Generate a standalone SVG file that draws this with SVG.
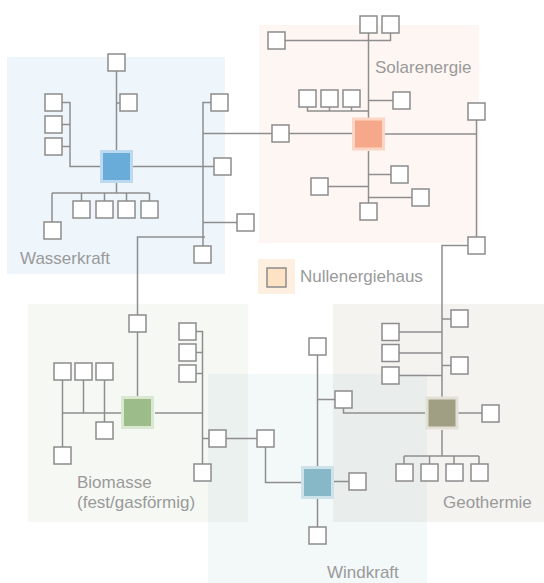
<svg xmlns="http://www.w3.org/2000/svg" width="544" height="583" viewBox="0 0 544 583">
<style>
.b{fill:#fff;stroke:#8c8c8c;stroke-width:1.5}
.c{fill:none;stroke:#8e8e8e;stroke-width:1.5}
.t{font-family:"Liberation Sans",Arial,sans-serif;font-size:17px;fill:#9a9a9a}
</style>
<rect width="544" height="583" fill="#fff"/>
<g id="regions">
<rect x="7" y="57" width="218" height="217" fill="#5b9bd5" fill-opacity="0.1"/>
<rect x="259" y="25" width="220" height="218" fill="#f4a989" fill-opacity="0.1"/>
<rect x="28" y="304" width="220" height="218" fill="#9cbd89" fill-opacity="0.1"/>
<rect x="333" y="304" width="211" height="218" fill="#a19f83" fill-opacity="0.12"/>
<rect x="208" y="374" width="219" height="209" fill="#86b8c8" fill-opacity="0.1"/>
<text class="t" x="20" y="264">Wasserkraft</text>
<text class="t" x="375" y="73">Solarenergie</text>
<text class="t" x="77" y="488">Biomasse</text>
<text class="t" x="77" y="508">(fest/gasförmig)</text>
<text class="t" x="443" y="508">Geothermie</text>
<text class="t" x="327" y="578">Windkraft</text>
</g>
<g id="legend">
<rect x="258" y="259" width="37" height="35" fill="#fef0e0"/>
<rect x="267" y="268" width="19" height="19" fill="#fde2c3" stroke="#8c8c8c" stroke-width="1.5"/>
<text class="t" x="300" y="282">Nullenergiehaus</text>
</g>
<g id="connectors">
<path class="c" d="M116.5 71V150M116.5 103H120M62 102.5H70V166.5H100M62 124.5H70M62 146.5H70M116.5 183V193M52 193H149.5M52 193V222M81.5 193V201M104.5 193V201M126.5 193V201M149.5 193V201M133 166.5H214M211 102.5H203V246M203 133.5H272M289 133.5H352M203 222.5H237M205 237H137.5V315M137.5 332V396"/>
<path class="c" d="M368.5 33V118M285 40.5H390.5V33M307.5 107V111H368.5M329.5 107V111M351.5 107V111M368.5 100.5H393M385 134H476.5M476.5 120V237M368.5 151V203M368.5 174.5H391M328 186.5H368.5M368.5 197.5H412"/>
<path class="c" d="M468 245.5H442V397M442 319H451M399 332H442M399 353H442M442 365.5H451M399 375.5H442M458 413H482M442 430V456M404 456H479M404 456V464M429.5 456V464M454 456V464M479 456V464M343.5 408V413H425"/>
<path class="c" d="M62.5 413H121M62.5 380V447M83.5 380V413M104.5 380V422M155 413H203M202.5 331V464M196 331.5H203M196 352.5H203M196 373.5H203M203 438.5H209M226 438.5H257"/>
<path class="c" d="M265.5 447V482.5H301M317.5 355V466M317.5 399.5H335M334 481.5H349M317.5 499V527"/>
</g>
<g id="hub-wasserkraft"><rect x="100" y="150" width="33" height="33" fill="#bcd9ef"/><rect x="103" y="153" width="27" height="27" fill="#6aacd9"/></g>
<g id="hub-solar"><rect x="352" y="117.5" width="33" height="33" fill="#fbd6c4"/><rect x="355" y="120.5" width="27" height="27" fill="#f5a98a"/></g>
<g id="hub-biomasse"><rect x="121" y="396" width="33" height="33" fill="#dae8d2"/><rect x="124" y="399" width="27" height="27" fill="#9cbd89"/></g>
<g id="hub-geothermie"><rect x="425.5" y="396.5" width="33" height="33" fill="#e3e1d7"/><rect x="428.5" y="399.5" width="27" height="27" fill="#a19f83"/></g>
<g id="hub-windkraft"><rect x="301" y="466" width="33" height="33" fill="#cde2ea"/><rect x="304" y="469" width="27" height="27" fill="#86b8c8"/></g>
<g id="w1"><rect class="b" x="108" y="54" width="17" height="17"/></g>
<g id="w2"><rect class="b" x="120" y="94" width="17" height="17"/></g>
<g id="w3"><rect class="b" x="45" y="94" width="17" height="17"/></g>
<g id="w4"><rect class="b" x="45" y="116" width="17" height="17"/></g>
<g id="w5"><rect class="b" x="45" y="138" width="17" height="17"/></g>
<g id="w6"><rect class="b" x="73" y="201" width="17" height="17"/></g>
<g id="w7"><rect class="b" x="96" y="201" width="17" height="17"/></g>
<g id="w8"><rect class="b" x="118" y="201" width="17" height="17"/></g>
<g id="w9"><rect class="b" x="141" y="201" width="17" height="17"/></g>
<g id="w10"><rect class="b" x="44" y="222" width="17" height="17"/></g>
<g id="w11"><rect class="b" x="214" y="158" width="17" height="17"/></g>
<g id="w12"><rect class="b" x="211" y="94" width="17" height="17"/></g>
<g id="w13"><rect class="b" x="237" y="214" width="17" height="17"/></g>
<g id="w14"><rect class="b" x="194" y="246" width="17" height="17"/></g>
<g id="s1"><rect class="b" x="360" y="16" width="17" height="17"/></g>
<g id="s2"><rect class="b" x="382" y="16" width="17" height="17"/></g>
<g id="s3"><rect class="b" x="268" y="32" width="17" height="17"/></g>
<g id="s4"><rect class="b" x="299" y="90" width="17" height="17"/></g>
<g id="s5"><rect class="b" x="321" y="90" width="17" height="17"/></g>
<g id="s6"><rect class="b" x="343" y="90" width="17" height="17"/></g>
<g id="s7"><rect class="b" x="393" y="92" width="17" height="17"/></g>
<g id="s8"><rect class="b" x="272" y="125" width="17" height="17"/></g>
<g id="s9"><rect class="b" x="468" y="103" width="17" height="17"/></g>
<g id="s10"><rect class="b" x="391" y="166" width="17" height="17"/></g>
<g id="s11"><rect class="b" x="311" y="178" width="17" height="17"/></g>
<g id="s12"><rect class="b" x="412" y="189" width="17" height="17"/></g>
<g id="s13"><rect class="b" x="360" y="203" width="17" height="17"/></g>
<g id="s14"><rect class="b" x="468" y="237" width="17" height="17"/></g>
<g id="b1"><rect class="b" x="129" y="315" width="17" height="17"/></g>
<g id="b2"><rect class="b" x="54" y="363" width="17" height="17"/></g>
<g id="b3"><rect class="b" x="75" y="363" width="17" height="17"/></g>
<g id="b4"><rect class="b" x="96" y="363" width="17" height="17"/></g>
<g id="b5"><rect class="b" x="96" y="422" width="17" height="17"/></g>
<g id="b6"><rect class="b" x="54" y="447" width="17" height="17"/></g>
<g id="b7"><rect class="b" x="179" y="323" width="17" height="17"/></g>
<g id="b8"><rect class="b" x="179" y="344" width="17" height="17"/></g>
<g id="b9"><rect class="b" x="179" y="365" width="17" height="17"/></g>
<g id="b10"><rect class="b" x="209" y="430" width="17" height="17"/></g>
<g id="b11"><rect class="b" x="194" y="464" width="17" height="17"/></g>
<g id="g1"><rect class="b" x="451" y="310" width="17" height="17"/></g>
<g id="g2"><rect class="b" x="382" y="323.5" width="17" height="17"/></g>
<g id="g3"><rect class="b" x="382" y="344.5" width="17" height="17"/></g>
<g id="g4"><rect class="b" x="382" y="367" width="17" height="17"/></g>
<g id="g5"><rect class="b" x="451" y="357" width="17" height="17"/></g>
<g id="g6"><rect class="b" x="482" y="405" width="17" height="17"/></g>
<g id="g7"><rect class="b" x="396" y="464" width="17" height="17"/></g>
<g id="g8"><rect class="b" x="421" y="464" width="17" height="17"/></g>
<g id="g9"><rect class="b" x="446" y="464" width="17" height="17"/></g>
<g id="g10"><rect class="b" x="471" y="464" width="17" height="17"/></g>
<g id="k1"><rect class="b" x="257" y="430" width="17" height="17"/></g>
<g id="k2"><rect class="b" x="309" y="338" width="17" height="17"/></g>
<g id="k3"><rect class="b" x="335" y="391" width="17" height="17"/></g>
<g id="k4"><rect class="b" x="349" y="473" width="17" height="17"/></g>
<g id="k5"><rect class="b" x="309" y="527" width="17" height="17"/></g>
</svg>
